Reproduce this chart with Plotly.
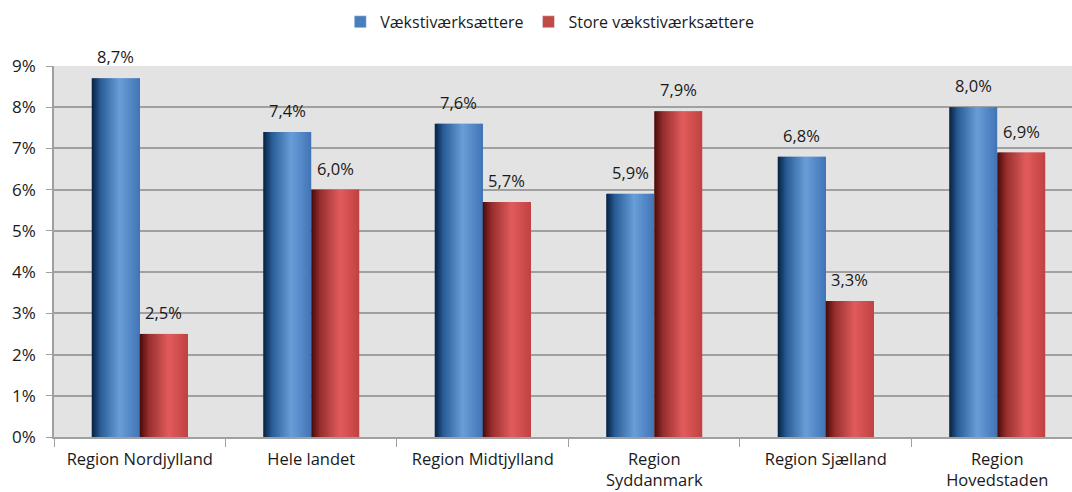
import plotly.graph_objects as go

categories = ["Region Nordjylland", "Hele landet", "Region Midtjylland",
              "Region<br>Syddanmark", "Region Sjælland", "Region<br>Hovedstaden"]
vaekst = [8.7, 7.4, 7.6, 5.9, 6.8, 8.0]
store_vaekst = [2.5, 6.0, 5.7, 7.9, 3.3, 6.9]
series_names = ["Vækstiværksættere", "Store vækstiværksættere"]
legend_colors = ["#4a7ebb", "#be4b48"]

# gradient stops (fraction across bar, rgb)
grad_blue = [(0.0, (8, 32, 64)), (0.18, (40, 92, 150)), (0.58, (104, 158, 216)), (1.0, (66, 116, 182))]
grad_red = [(0.0, (70, 10, 10)), (0.18, (150, 45, 45)), (0.6, (226, 92, 92)), (1.0, (192, 66, 66))]

FONT = "Open Sans"
BAR_W = 0.28
N = 32
W = 1072
L_MARGIN = 54
X_RANGE = [-0.5, 5.436]
PX_PER_CAT = (W - L_MARGIN) / (X_RANGE[1] - X_RANGE[0])


def interp(stops, t):
    for (t0, c0), (t1, c1) in zip(stops, stops[1:]):
        if t <= t1:
            f = (t - t0) / (t1 - t0) if t1 > t0 else 0
            return "rgb(%d,%d,%d)" % tuple(round(a + (b - a) * f) for a, b in zip(c0, c1))
    return "rgb(%d,%d,%d)" % stops[-1][1]


fig = go.Figure()
for vals, stops, base_off in [(vaekst, grad_blue, -BAR_W), (store_vaekst, grad_red, 0.0)]:
    sw = BAR_W / N
    for i in range(N):
        t = (i + 0.5) / N
        fig.add_trace(go.Bar(
            x=categories, y=vals,
            width=sw * 1.6 if i < N - 1 else sw,
            offset=base_off + i * sw,
            marker=dict(color=interp(stops, t), line=dict(width=0)),
            showlegend=False, hoverinfo="skip",
        ))
    # value labels above each bar
    shift = (base_off + BAR_W / 2) * PX_PER_CAT
    for c, v in zip(categories, vals):
        fig.add_annotation(x=c, y=v, text=("%.1f%%" % v).replace(".", ","),
                           showarrow=False, xshift=shift, yshift=8,
                           xanchor="center", yanchor="bottom",
                           font=dict(family=FONT, size=16.5, color="#1a1a1a"))

for name, col in zip(series_names, legend_colors):
    fig.add_trace(go.Bar(x=[categories[0]], y=[None], name=name,
                         marker=dict(color=col), showlegend=True))

fig.update_layout(
    width=W, height=492,
    margin=dict(l=L_MARGIN, r=0, t=66, b=55, autoexpand=False),
    barmode="overlay",
    separators=",.",
    paper_bgcolor="white",
    plot_bgcolor="#e3e3e3",
    font=dict(family=FONT, size=16.5, color="#1a1a1a"),
    legend=dict(orientation="h", x=0.487, xanchor="center", y=1.119, yanchor="middle",
                font=dict(family=FONT, size=16), traceorder="normal",
                itemwidth=30),
    xaxis=dict(range=X_RANGE, showgrid=False, ticks="outside", tickson="boundaries",
               ticklen=8, tickcolor="#a0a0a0", showline=True, linecolor="#a0a0a0",
               linewidth=1.5, tickfont=dict(family=FONT, size=16.5), automargin=False,
               ticklabelstandoff=6),
    yaxis=dict(range=[0, 9], dtick=1, ticksuffix="%", showgrid=True, gridcolor="#a0a0a0",
               gridwidth=1.5, ticks="outside", ticklen=6, tickcolor="#a0a0a0",
               showline=True, linecolor="#a0a0a0", linewidth=1.5, zeroline=False,
               tickfont=dict(family=FONT, size=17), automargin=False,
               ticklabelstandoff=7),
)

fig.write_html("out.html", config={"responsive": False, "displayModeBar": False},
               post_script="document.body.style.margin='0';document.body.style.overflow='hidden';")
